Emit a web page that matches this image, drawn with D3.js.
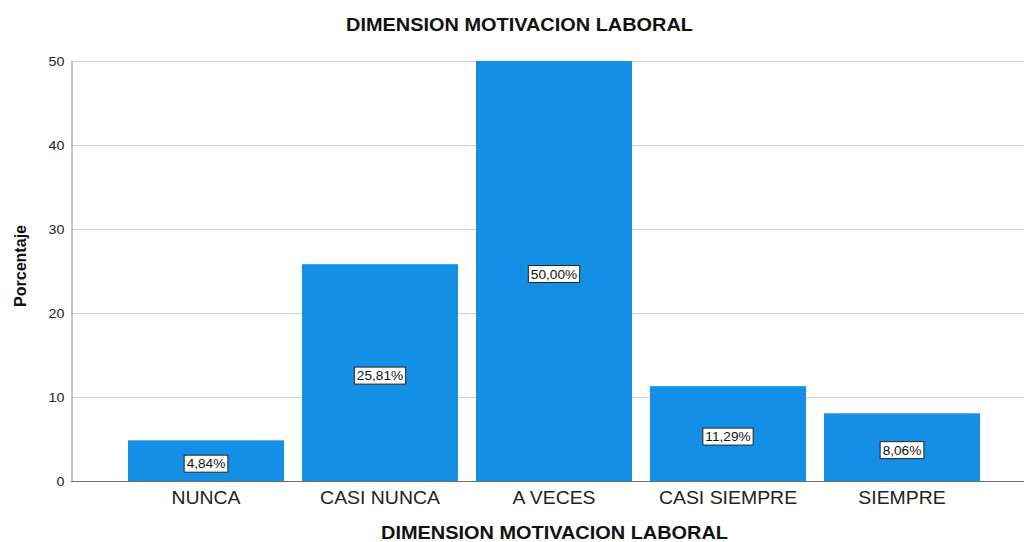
<!DOCTYPE html>
<html><head><meta charset="utf-8">
<script src="https://cdn.jsdelivr.net/npm/d3@7"></script>
<style>body{margin:0;background:#fff;} svg{display:block;font-family:"Liberation Sans",Arial,sans-serif;}</style>
</head><body>
<svg id="c" width="1024" height="542"></svg>
<script>
const categories = ["NUNCA","CASI NUNCA","A VECES","CASI SIEMPRE","SIEMPRE"];
const values = [4.84, 25.81, 50.00, 11.29, 8.06];
const labels = ["4,84%","25,81%","50,00%","11,29%","8,06%"];
const yTicks = [0,10,20,30,40,50];
const title = "DIMENSION MOTIVACION LABORAL";
const xTitle = "DIMENSION MOTIVACION LABORAL";
const yTitle = "Porcentaje";

(function(){
const svg = d3.select("#c");
const pLeft = 71, pRight = 1024, pTop = 61, pBottom = 481;
const x = d3.scaleBand().domain(categories).range([119, 989]).paddingInner(0.1034).paddingOuter(0.0517);
const y = d3.scaleLinear().domain([0,50]).range([pBottom, pTop]);

function stretch(sel, k){
  sel.each(function(){
    const w = this.getComputedTextLength();
    d3.select(this).attr("textLength", w*k).attr("lengthAdjust","spacingAndGlyphs");
  });
}

// grid
svg.append("g").selectAll("line").data(yTicks.filter(d=>d>0)).join("line")
  .attr("x1", pLeft).attr("x2", pRight).attr("y1", d=>y(d)+0.5).attr("y2", d=>y(d)+0.5)
  .attr("stroke", "#d0d0d0").attr("stroke-width", 1);

// bars
svg.append("g").selectAll("rect").data(values).join("rect")
  .attr("x", (d,i)=>x(categories[i])).attr("width", x.bandwidth())
  .attr("y", d=>y(d)).attr("height", d=>pBottom - y(d))
  .attr("fill", "#1390e6");

// axes
const yAxis = d3.axisLeft(y).tickValues(yTicks).tickSize(0).tickPadding(7);
const gy = svg.append("g").attr("transform", `translate(${pLeft+0.5},0)`).call(yAxis);
gy.select(".domain").attr("stroke", "#8a8a8a");
gy.selectAll("text").attr("font-size", 13).attr("fill", "#222").attr("font-family", "Liberation Sans, Arial, sans-serif");
stretch(gy.selectAll("text"), 1.1);

const xAxis = d3.axisBottom(x).tickSize(0).tickPadding(10);
const gx = svg.append("g").attr("transform", `translate(0,${pBottom+0.5})`).call(xAxis);
gx.select(".domain").attr("d", `M${pLeft},0H${pRight}`).attr("stroke", "#6e6e6e");
gx.selectAll("text").attr("font-size", 17.5).attr("fill", "#222").attr("font-family", "Liberation Sans, Arial, sans-serif");
stretch(gx.selectAll("text"), 1.11);

// value labels
const lg = svg.append("g").selectAll("g").data(values).join("g")
  .attr("transform", (d,i)=>`translate(${x(categories[i]) + x.bandwidth()/2},${(y(d)+pBottom)/2 + 3})`);
lg.append("text").text((d,i)=>labels[i])
  .attr("text-anchor","middle").attr("dy","0.36em").attr("font-size", 13).attr("fill","#111")
  .each(function(){
    const w = this.getComputedTextLength()*1.05;
    d3.select(this).attr("textLength", w).attr("lengthAdjust","spacingAndGlyphs");
    d3.select(this.parentNode).insert("rect","text")
      .attr("x", -w/2-2.5).attr("y", -8.5).attr("width", w+5).attr("height", 17)
      .attr("fill","#fff").attr("stroke","#222").attr("stroke-width",1);
  });

// titles
const t1 = svg.append("text").attr("x", 519.5).attr("y", 31).attr("text-anchor","middle")
  .attr("font-size", 18).attr("font-weight","bold").attr("fill","#111").text(title);
stretch(t1, 1.106);
const t2 = svg.append("text").attr("x", 554.5).attr("y", 539).attr("text-anchor","middle")
  .attr("font-size", 18).attr("font-weight","bold").attr("fill","#111").text(xTitle);
stretch(t2, 1.106);
const t3 = svg.append("text").attr("transform","translate(25.5,266) rotate(-90)").attr("text-anchor","middle")
  .attr("font-size", 16).attr("font-weight","bold").attr("fill","#111").text(yTitle);
t3.each(function(){ d3.select(this).attr("textLength", 82).attr("lengthAdjust","spacingAndGlyphs"); });
})();
</script>
</body></html>
